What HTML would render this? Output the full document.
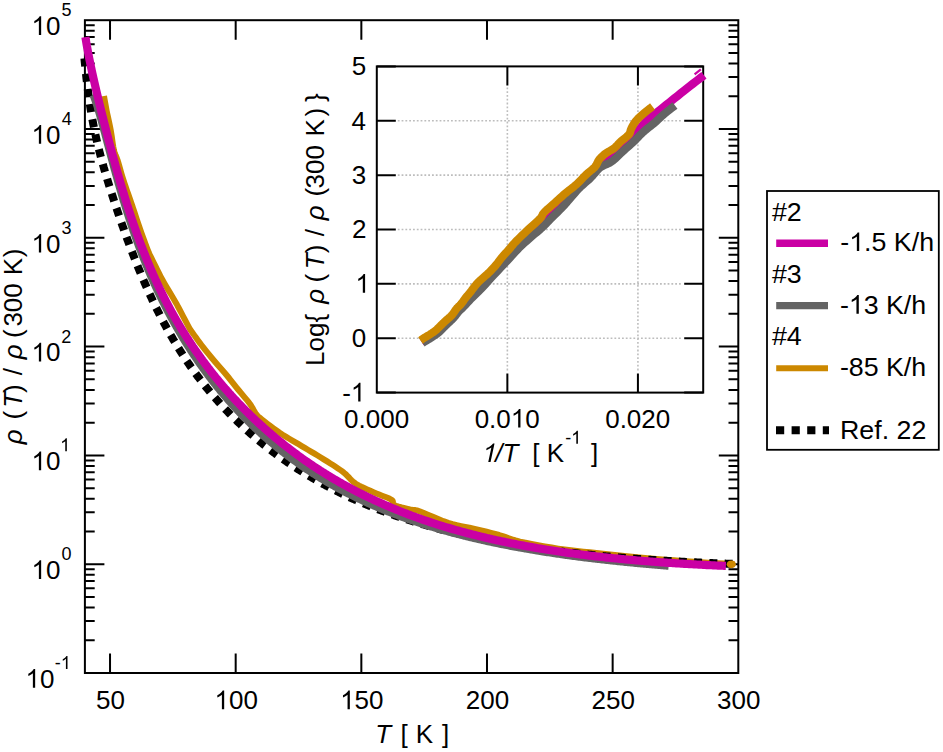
<!DOCTYPE html>
<html><head><meta charset="utf-8"><style>
html,body{margin:0;padding:0;background:#fff;}
svg{display:block;}
text{font-family:"Liberation Sans",sans-serif;fill:#000;}
.t26{font-size:26px;}
.t24{font-size:24.5px;}
.t18{font-size:18px;}
</style></head><body>
<svg width="943" height="752" viewBox="0 0 943 752">
<rect width="943" height="752" fill="#fff"/>
<!-- main frame -->
<g fill="none" stroke="#000" stroke-width="2">
<rect x="84.9" y="20.2" width="653.4" height="652.8"/>
<path d="M84.9 673H104.4M738.3 673H718.8M84.9 640.25H94.7M738.3 640.25H728.5M84.9 621.09H94.7M738.3 621.09H728.5M84.9 607.5H94.7M738.3 607.5H728.5M84.9 596.95H94.7M738.3 596.95H728.5M84.9 588.34H94.7M738.3 588.34H728.5M84.9 581.05H94.7M738.3 581.05H728.5M84.9 574.74H94.7M738.3 574.74H728.5M84.9 569.18H94.7M738.3 569.18H728.5M84.9 564.2H104.4M738.3 564.2H718.8M84.9 531.45H94.7M738.3 531.45H728.5M84.9 512.29H94.7M738.3 512.29H728.5M84.9 498.7H94.7M738.3 498.7H728.5M84.9 488.15H94.7M738.3 488.15H728.5M84.9 479.54H94.7M738.3 479.54H728.5M84.9 472.25H94.7M738.3 472.25H728.5M84.9 465.94H94.7M738.3 465.94H728.5M84.9 460.38H94.7M738.3 460.38H728.5M84.9 455.4H104.4M738.3 455.4H718.8M84.9 422.65H94.7M738.3 422.65H728.5M84.9 403.49H94.7M738.3 403.49H728.5M84.9 389.9H94.7M738.3 389.9H728.5M84.9 379.35H94.7M738.3 379.35H728.5M84.9 370.74H94.7M738.3 370.74H728.5M84.9 363.45H94.7M738.3 363.45H728.5M84.9 357.14H94.7M738.3 357.14H728.5M84.9 351.58H94.7M738.3 351.58H728.5M84.9 346.6H104.4M738.3 346.6H718.8M84.9 313.85H94.7M738.3 313.85H728.5M84.9 294.69H94.7M738.3 294.69H728.5M84.9 281.1H94.7M738.3 281.1H728.5M84.9 270.55H94.7M738.3 270.55H728.5M84.9 261.94H94.7M738.3 261.94H728.5M84.9 254.65H94.7M738.3 254.65H728.5M84.9 248.34H94.7M738.3 248.34H728.5M84.9 242.78H94.7M738.3 242.78H728.5M84.9 237.8H104.4M738.3 237.8H718.8M84.9 205.05H94.7M738.3 205.05H728.5M84.9 185.89H94.7M738.3 185.89H728.5M84.9 172.3H94.7M738.3 172.3H728.5M84.9 161.75H94.7M738.3 161.75H728.5M84.9 153.14H94.7M738.3 153.14H728.5M84.9 145.85H94.7M738.3 145.85H728.5M84.9 139.54H94.7M738.3 139.54H728.5M84.9 133.98H94.7M738.3 133.98H728.5M84.9 129H104.4M738.3 129H718.8M84.9 96.25H94.7M738.3 96.25H728.5M84.9 77.09H94.7M738.3 77.09H728.5M84.9 63.5H94.7M738.3 63.5H728.5M84.9 52.95H94.7M738.3 52.95H728.5M84.9 44.34H94.7M738.3 44.34H728.5M84.9 37.05H94.7M738.3 37.05H728.5M84.9 30.74H94.7M738.3 30.74H728.5M84.9 25.18H94.7M738.3 25.18H728.5M110.03 673V653.5M110.03 20.2V39.7M235.68 673V653.5M235.68 20.2V39.7M361.34 673V653.5M361.34 20.2V39.7M486.99 673V653.5M486.99 20.2V39.7M612.65 673V653.5M612.65 20.2V39.7"/>
</g>
<!-- main curves -->
<g fill="none" stroke-linejoin="round">
<path d="M84 53.6 L84.22 56.05 L84.44 58.45 L84.65 60.81 L84.87 63.13 L85.1 65.4 L85.32 67.63 L85.54 69.82 L85.64 70.78 L85.76 71.97 L85.99 74.09 L86.22 76.16 L86.44 78.2 L86.67 80.2 L86.9 82.17 L87.13 84.11 L87.28 85.35 L87.36 86.01 L87.59 87.88 L87.83 89.72 L88.06 91.53 L88.29 93.31 L88.53 95.06 L88.77 96.78 L88.92 97.86 L89.01 98.48 L89.25 100.15 L89.49 101.79 L89.73 103.41 L89.97 105.01 L90.22 106.59 L90.46 108.14 L90.56 108.75 L90.71 109.67 L90.95 111.18 L91.2 112.66 L91.45 114.13 L91.7 115.58 L91.96 117.01 L92.2 118.37 L92.21 118.43 L92.46 119.83 L92.72 121.21 L92.98 122.57 L93.23 123.92 L93.49 125.25 L93.75 126.58 L93.84 127 L94.02 127.88 L94.28 129.18 L94.54 130.46 L94.81 131.73 L95.08 132.98 L95.34 134.23 L95.48 134.85 L95.61 135.46 L95.88 136.69 L96.16 137.9 L96.43 139.11 L96.7 140.31 L96.98 141.5 L97.12 142.08 L97.26 142.68 L97.54 143.85 L97.82 145.02 L98.1 146.18 L98.38 147.33 L98.67 148.47 L98.76 148.84 L98.95 149.61 L99.24 150.75 L99.53 151.88 L99.82 153 L100.11 154.12 L100.4 155.22 L100.4 155.24 L100.7 156.35 L100.99 157.46 L101.29 158.57 L101.59 159.67 L101.89 160.77 L102.04 161.3 L102.19 161.87 L102.5 162.96 L102.8 164.06 L103.11 165.15 L103.42 166.24 L103.68 167.14 L103.73 167.33 L104.04 168.41 L104.36 169.5 L104.67 170.59 L104.99 171.67 L105.31 172.76 L105.32 172.8 L105.63 173.84 L105.95 174.92 L106.27 176.01 L106.6 177.09 L106.92 178.18 L106.96 178.3 L107.25 179.27 L107.58 180.35 L107.91 181.44 L108.25 182.53 L108.58 183.62 L108.6 183.66 L108.92 184.71 L109.26 185.81 L109.6 186.9 L109.95 188 L110.24 188.92 L110.29 189.1 L110.64 190.2 L110.99 191.3 L111.34 192.41 L111.69 193.51 L111.88 194.09 L112.05 194.62 L112.4 195.73 L112.76 196.84 L113.12 197.96 L113.49 199.08 L113.52 199.17 L113.85 200.2 L114.22 201.32 L114.59 202.45 L114.96 203.58 L115.16 204.18 L115.33 204.71 L115.71 205.84 L116.09 206.98 L116.47 208.12 L116.8 209.11 L116.85 209.26 L117.23 210.41 L117.62 211.56 L118.01 212.71 L118.4 213.86 L118.44 213.98 L118.79 215.02 L119.19 216.18 L119.58 217.34 L119.99 218.51 L120.08 218.78 L120.39 219.68 L120.79 220.85 L121.2 222.03 L121.61 223.21 L121.72 223.51 L122.02 224.39 L122.44 225.57 L122.86 226.76 L123.28 227.95 L123.36 228.18 L123.7 229.14 L124.12 230.34 L124.55 231.54 L124.98 232.74 L125 232.78 L125.41 233.94 L125.85 235.15 L126.29 236.36 L126.64 237.32 L126.73 237.58 L127.17 238.79 L127.62 240.01 L128.07 241.23 L128.28 241.79 L128.52 242.46 L128.98 243.68 L129.43 244.91 L129.89 246.14 L129.92 246.2 L130.36 247.38 L130.83 248.62 L131.29 249.86 L131.56 250.54 L131.77 251.1 L132.24 252.34 L132.72 253.59 L133.2 254.82 L133.2 254.84 L133.69 256.09 L134.18 257.34 L134.67 258.6 L134.84 259.02 L135.16 259.86 L135.66 261.12 L136.16 262.38 L136.48 263.16 L136.67 263.64 L137.18 264.91 L137.69 266.18 L138.12 267.23 L138.2 267.45 L138.72 268.72 L139.24 270 L139.75 271.24 L139.77 271.27 L140.3 272.55 L140.83 273.83 L141.37 275.11 L141.39 275.18 L141.91 276.39 L142.45 277.68 L143 278.96 L143.03 279.05 L143.55 280.25 L144.1 281.54 L144.66 282.83 L144.67 282.85 L145.23 284.12 L145.79 285.41 L146.31 286.59 L146.36 286.7 L146.94 288 L147.52 289.3 L147.95 290.27 L148.1 290.59 L148.69 291.89 L149.28 293.19 L149.59 293.88 L149.88 294.49 L150.48 295.79 L151.08 297.1 L151.23 297.43 L151.69 298.4 L152.3 299.71 L152.87 300.91 L152.92 301.01 L153.54 302.32 L154.17 303.62 L154.51 304.34 L154.8 304.93 L155.44 306.24 L156.08 307.55 L156.15 307.7 L156.73 308.86 L157.38 310.17 L157.79 311.01 L158.03 311.48 L158.69 312.8 L159.36 314.11 L159.43 314.25 L160.03 315.42 L160.71 316.74 L161.07 317.44 L161.39 318.05 L162.07 319.36 L162.71 320.58 L162.77 320.68 L163.46 322 L164.17 323.31 L164.35 323.66 L164.88 324.63 L165.59 325.95 L165.99 326.68 L166.31 327.26 L167.04 328.58 L167.63 329.66 L167.77 329.9 L168.5 331.22 L169.25 332.54 L169.27 332.58 L170 333.86 L170.75 335.18 L170.91 335.46 L171.51 336.5 L172.28 337.82 L172.55 338.28 L173.05 339.14 L173.84 340.46 L174.19 341.06 L174.62 341.78 L175.42 343.1 L175.83 343.79 L176.22 344.42 L177.02 345.74 L177.47 346.47 L177.84 347.07 L178.66 348.39 L179.11 349.12 L179.48 349.71 L180.32 351.03 L180.75 351.71 L181.16 352.36 L182.01 353.68 L182.39 354.27 L182.87 355 L183.73 356.33 L184.03 356.78 L184.6 357.65 L185.48 358.98 L185.67 359.26 L186.37 360.3 L187.26 361.63 L187.31 361.7 L188.17 362.95 L188.95 364.09 L189.08 364.28 L190 365.6 L190.59 366.46 L190.92 366.93 L191.86 368.26 L192.23 368.78 L192.8 369.58 L193.76 370.91 L193.87 371.07 L194.72 372.24 L195.51 373.33 L195.69 373.57 L196.67 374.9 L197.15 375.55 L197.66 376.23 L198.65 377.55 L198.79 377.74 L199.66 378.88 L200.43 379.89 L200.68 380.22 L201.7 381.55 L202.07 382.02 L202.74 382.88 L203.71 384.11 L203.79 384.21 L204.84 385.54 L205.35 386.18 L205.91 386.87 L206.98 388.21 L206.99 388.21 L208.07 389.54 L208.63 390.22 L209.17 390.88 L210.27 392.2 L210.28 392.21 L211.4 393.55 L211.91 394.15 L212.53 394.88 L213.55 396.08 L213.67 396.22 L214.82 397.56 L215.19 397.98 L215.99 398.9 L216.83 399.85 L217.17 400.24 L218.36 401.58 L218.47 401.7 L219.56 402.92 L220.11 403.52 L220.77 404.26 L221.75 405.33 L222 405.6 L223.24 406.94 L223.39 407.1 L224.49 408.29 L225.03 408.86 L225.76 409.63 L226.67 410.59 L227.03 410.97 L228.31 412.3 L228.33 412.32 L229.63 413.67 L229.95 413.99 L230.95 415.01 L231.59 415.66 L232.29 416.36 L233.23 417.3 L233.64 417.71 L234.87 418.93 L235 419.06 L236.38 420.41 L236.51 420.54 L237.77 421.76 L238.15 422.12 L239.18 423.12 L239.79 423.69 L240.61 424.47 L241.43 425.24 L242.05 425.83 L243.07 426.77 L243.51 427.18 L244.71 428.28 L244.98 428.54 L246.35 429.78 L246.47 429.89 L247.98 431.25 L247.98 431.25 L249.51 432.61 L249.62 432.71 L251.05 433.97 L251.26 434.15 L252.61 435.33 L252.9 435.58 L254.19 436.69 L254.54 436.99 L255.79 438.05 L256.18 438.38 L257.41 439.42 L257.82 439.76 L259.05 440.78 L259.46 441.12 L260.71 442.14 L261.1 442.47 L262.38 443.51 L262.74 443.8 L264.08 444.87 L264.38 445.12 L265.8 446.24 L266.02 446.42 L267.54 447.61 L267.66 447.7 L269.3 448.97 L269.3 448.98 L270.94 450.23 L271.08 450.34 L272.58 451.48 L272.89 451.71 L274.22 452.71 L274.72 453.08 L275.86 453.93 L276.57 454.45 L277.5 455.13 L278.45 455.82 L279.14 456.32 L280.35 457.19 L280.78 457.5 L282.27 458.56 L282.42 458.67 L284.06 459.82 L284.22 459.93 L285.7 460.96 L286.2 461.3 L287.34 462.09 L288.2 462.68 L288.98 463.21 L290.23 464.05 L290.62 464.31 L292.26 465.4 L292.29 465.42 L293.9 466.48 L294.37 466.79 L295.54 467.55 L296.48 468.16 L297.18 468.61 L298.62 469.53 L298.82 469.66 L300.46 470.69 L300.79 470.9 L302.1 471.72 L303 472.28 L303.74 472.73 L305.23 473.65 L305.38 473.74 L307.02 474.73 L307.49 475.01 L308.66 475.71 L309.79 476.38 L310.3 476.69 L311.94 477.65 L312.12 477.75 L313.58 478.6 L314.48 479.12 L315.22 479.54 L316.86 480.48 L316.87 480.49 L318.5 481.4 L319.3 481.85 L320.14 482.31 L321.77 483.22 L321.78 483.22 L323.42 484.11 L324.28 484.58 L325.06 485 L326.7 485.88 L326.82 485.94 L328.34 486.74 L329.4 487.3 L329.98 487.6 L331.62 488.45 L332.02 488.66 L333.26 489.29 L334.67 490.01 L334.9 490.13 L336.54 490.95 L337.37 491.37 L338.18 491.77 L339.82 492.57 L340.12 492.72 L341.46 493.37 L342.9 494.07 L343.1 494.16 L344.74 494.95 L345.73 495.42 L346.38 495.72 L348.02 496.49 L348.6 496.76 L349.66 497.25 L351.3 498 L351.52 498.1 L352.94 498.74 L354.49 499.44 L354.58 499.48 L356.22 500.21 L357.5 500.78 L357.85 500.93 L359.49 501.64 L360.57 502.11 L361.13 502.35 L362.77 503.05 L363.68 503.44 L364.41 503.74 L366.05 504.43 L366.85 504.76 L367.69 505.11 L369.33 505.78 L370.07 506.08 L370.97 506.44 L372.61 507.1 L373.35 507.4 L374.25 507.75 L375.89 508.4 L376.68 508.71 L377.53 509.04 L379.17 509.67 L380.07 510.01 L380.81 510.3 L382.45 510.92 L383.52 511.32 L384.09 511.53 L385.73 512.14 L387.03 512.61 L387.37 512.74 L389.01 513.33 L390.6 513.9 L390.65 513.92 L392.29 514.51 L393.93 515.08 L394.23 515.19 L395.57 515.65 L397.21 516.22 L397.93 516.47 L398.85 516.78 L400.49 517.33 L401.7 517.74 L402.13 517.88 L403.77 518.43 L405.41 518.96 L405.54 519.01 L407.05 519.5 L408.69 520.02 L409.45 520.26 L410.33 520.54 L411.97 521.06 L413.43 521.52 L413.61 521.57 L415.25 522.08 L416.89 522.58 L417.49 522.76 L418.53 523.08 L420.17 523.57 L421.62 524 L421.81 524.05 L423.45 524.53 L425.09 525.01 L425.83 525.23 L426.73 525.48 L428.37 525.95 L430.01 526.41 L430.13 526.45 L431.65 526.87 L433.29 527.32 L434.51 527.66 L434.93 527.77 L436.57 528.21 L438.21 528.65 L438.98 528.86 L439.85 529.09 L441.49 529.52 L443.13 529.94 L443.54 530.05 L444.77 530.37 L446.41 530.78 L448.05 531.2 L448.19 531.23 L449.69 531.61 L451.33 532.01 L452.93 532.4 L452.97 532.41 L454.61 532.81 L456.25 533.2 L457.77 533.56 L457.89 533.59 L459.53 533.98 L461.17 534.36 L462.72 534.71 L462.81 534.73 L464.45 535.11 L466.08 535.48 L467.72 535.84 L467.77 535.85 L469.36 536.21 L471 536.56 L472.64 536.92 L472.92 536.98 L474.28 537.27 L475.92 537.62 L477.56 537.96 L478.19 538.09 L479.2 538.3 L480.84 538.64 L482.48 538.98 L483.57 539.2 L484.12 539.31 L485.76 539.63 L487.4 539.96 L489.04 540.28 L489.07 540.28 L490.68 540.59 L492.32 540.91 L493.96 541.22 L494.7 541.36 L495.6 541.53 L497.24 541.83 L498.88 542.13 L500.45 542.42 L500.52 542.43 L502.16 542.73 L503.8 543.02 L505.44 543.31 L506.33 543.46 L507.08 543.59 L508.72 543.88 L510.36 544.16 L512 544.44 L512.34 544.49 L513.64 544.71 L515.28 544.98 L516.92 545.25 L518.5 545.51 L518.56 545.52 L520.2 545.78 L521.84 546.04 L523.48 546.3 L524.8 546.51 L525.12 546.55 L526.76 546.81 L528.4 547.06 L530.04 547.31 L531.26 547.49 L531.68 547.55 L533.32 547.79 L534.96 548.03 L536.6 548.27 L537.86 548.45 L538.24 548.51 L539.88 548.74 L541.52 548.97 L543.16 549.2 L544.63 549.4 L544.8 549.42 L546.44 549.64 L548.08 549.86 L549.72 550.08 L551.36 550.3 L551.57 550.33 L553 550.51 L554.64 550.72 L556.28 550.93 L557.92 551.14 L558.69 551.24 L559.56 551.34 L561.2 551.55" stroke="#000" stroke-width="8" stroke-dasharray="8 7.35" stroke-dashoffset="-4.88"/>
<path d="M93 95.04 L93.23 95.57 L93.46 96.12 L93.69 96.68 L93.92 97.26 L94.16 97.86 L94.39 98.47 L94.44 98.61 L94.63 99.1 L94.86 99.75 L95.1 100.4 L95.34 101.08 L95.58 101.77 L95.82 102.47 L95.89 102.66 L96.06 103.18 L96.3 103.91 L96.55 104.66 L96.79 105.41 L97.04 106.18 L97.28 106.97 L97.33 107.1 L97.53 107.76 L97.78 108.57 L98.03 109.39 L98.28 110.22 L98.54 111.06 L98.77 111.85 L98.79 111.91 L99.04 112.78 L99.3 113.65 L99.56 114.54 L99.81 115.44 L100.07 116.34 L100.21 116.83 L100.33 117.26 L100.6 118.19 L100.86 119.12 L101.12 120.07 L101.39 121.02 L101.65 121.98 L101.66 121.99 L101.92 122.96 L102.19 123.94 L102.46 124.92 L102.73 125.92 L103 126.93 L103.1 127.27 L103.28 127.94 L103.55 128.96 L103.83 129.99 L104.11 131.02 L104.39 132.06 L104.54 132.64 L104.67 133.11 L104.95 134.17 L105.23 135.23 L105.51 136.3 L105.8 137.37 L105.98 138.06 L106.09 138.45 L106.38 139.54 L106.67 140.63 L106.96 141.73 L107.25 142.83 L107.43 143.5 L107.54 143.94 L107.84 145.06 L108.13 146.17 L108.43 147.3 L108.73 148.43 L108.87 148.94 L109.03 149.56 L109.33 150.7 L109.64 151.84 L109.94 152.99 L110.25 154.14 L110.31 154.36 L110.56 155.29 L110.87 156.45 L111.18 157.61 L111.49 158.78 L111.75 159.75 L111.81 159.94 L112.12 161.12 L112.44 162.29 L112.76 163.47 L113.08 164.65 L113.2 165.08 L113.4 165.84 L113.73 167.02 L114.05 168.21 L114.38 169.41 L114.64 170.35 L114.71 170.6 L115.04 171.8 L115.37 173 L115.71 174.2 L116.04 175.41 L116.08 175.56 L116.38 176.62 L116.72 177.82 L117.06 179.03 L117.4 180.25 L117.52 180.68 L117.74 181.46 L118.09 182.68 L118.44 183.9 L118.79 185.11 L118.97 185.73 L119.14 186.34 L119.49 187.56 L119.85 188.78 L120.21 190.01 L120.41 190.7 L120.57 191.23 L120.93 192.46 L121.29 193.69 L121.65 194.92 L121.85 195.58 L122.02 196.15 L122.39 197.38 L122.76 198.61 L123.13 199.84 L123.29 200.38 L123.51 201.07 L123.88 202.31 L124.26 203.54 L124.64 204.78 L124.74 205.08 L125.03 206.01 L125.41 207.25 L125.8 208.49 L126.18 209.7 L126.19 209.72 L126.58 210.96 L126.97 212.2 L127.37 213.44 L127.62 214.23 L127.77 214.68 L128.17 215.92 L128.57 217.15 L128.97 218.39 L129.07 218.67 L129.38 219.63 L129.79 220.87 L130.2 222.11 L130.51 223.03 L130.62 223.35 L131.03 224.59 L131.45 225.83 L131.87 227.07 L131.95 227.3 L132.3 228.31 L132.72 229.55 L133.15 230.79 L133.39 231.49 L133.58 232.03 L134.01 233.27 L134.45 234.51 L134.84 235.6 L134.89 235.74 L135.33 236.98 L135.77 238.22 L136.22 239.46 L136.28 239.62 L136.67 240.7 L137.12 241.94 L137.57 243.17 L137.72 243.57 L138.03 244.41 L138.49 245.65 L138.95 246.89 L139.16 247.45 L139.42 248.12 L139.89 249.36 L140.36 250.6 L140.61 251.25 L140.83 251.83 L141.31 253.07 L141.79 254.31 L142.05 254.98 L142.27 255.54 L142.75 256.78 L143.24 258.01 L143.49 258.64 L143.73 259.25 L144.23 260.48 L144.73 261.72 L144.93 262.23 L145.23 262.95 L145.73 264.19 L146.24 265.42 L146.38 265.76 L146.75 266.66 L147.26 267.89 L147.78 269.12 L147.82 269.22 L148.3 270.36 L148.82 271.59 L149.26 272.63 L149.35 272.83 L149.88 274.06 L150.41 275.29 L150.7 275.97 L150.95 276.53 L151.49 277.76 L152.03 278.99 L152.15 279.25 L152.58 280.22 L153.13 281.46 L153.59 282.48 L153.68 282.69 L154.24 283.92 L154.8 285.16 L155.03 285.66 L155.37 286.39 L155.94 287.62 L156.47 288.78 L156.51 288.86 L157.09 290.09 L157.67 291.33 L157.92 291.85 L158.26 292.56 L158.84 293.79 L159.36 294.87 L159.44 295.03 L160.03 296.26 L160.63 297.5 L160.8 297.84 L161.24 298.73 L161.85 299.97 L162.25 300.77 L162.46 301.2 L163.08 302.44 L163.69 303.65 L163.7 303.68 L164.33 304.91 L164.96 306.15 L165.13 306.48 L165.59 307.39 L166.23 308.62 L166.57 309.28 L166.88 309.86 L167.53 311.1 L168.02 312.03 L168.18 312.34 L168.84 313.58 L169.46 314.74 L169.5 314.82 L170.17 316.06 L170.84 317.31 L170.9 317.41 L171.52 318.55 L172.2 319.79 L172.34 320.05 L172.89 321.03 L173.58 322.28 L173.79 322.65 L174.28 323.52 L174.98 324.77 L175.23 325.21 L175.69 326.02 L176.4 327.26 L176.67 327.73 L177.12 328.51 L177.84 329.76 L178.11 330.23 L178.57 331.01 L179.31 332.26 L179.56 332.68 L180.05 333.51 L180.79 334.77 L181 335.11 L181.55 336.02 L182.3 337.28 L182.44 337.5 L183.07 338.53 L183.84 339.79 L183.88 339.87 L184.61 341.05 L185.33 342.2 L185.39 342.3 L186.18 343.56 L186.77 344.5 L186.97 344.83 L187.77 346.09 L188.21 346.78 L188.58 347.35 L189.39 348.62 L189.65 349.02 L190.21 349.88 L191.04 351.15 L191.1 351.24 L191.87 352.42 L192.54 353.43 L192.71 353.69 L193.55 354.96 L193.98 355.6 L194.41 356.23 L195.27 357.5 L195.43 357.74 L196.13 358.78 L196.87 359.85 L197.01 360.05 L197.89 361.33 L198.31 361.94 L198.78 362.61 L199.67 363.89 L199.75 364 L200.58 365.17 L201.2 366.04 L201.49 366.45 L202.41 367.73 L202.64 368.06 L203.33 369.02 L204.08 370.05 L204.27 370.31 L205.21 371.59 L205.52 372.02 L206.16 372.88 L206.97 373.97 L207.12 374.18 L208.09 375.47 L208.41 375.9 L209.06 376.76 L209.85 377.8 L210.05 378.06 L211.04 379.35 L211.29 379.68 L212.04 380.65 L212.74 381.55 L213.05 381.95 L214.07 383.25 L214.18 383.39 L215.1 384.56 L215.62 385.21 L216.14 385.86 L217.06 387.02 L217.18 387.17 L218.24 388.47 L218.51 388.8 L219.31 389.78 L219.95 390.56 L220.38 391.09 L221.39 392.31 L221.47 392.4 L222.57 393.72 L222.83 394.04 L223.67 395.03 L224.28 395.74 L224.79 396.35 L225.72 397.43 L225.92 397.66 L227.05 398.98 L227.16 399.11 L228.2 400.3 L228.61 400.76 L229.36 401.62 L230.05 402.4 L230.53 402.95 L231.49 404.02 L231.71 404.27 L232.91 405.6 L232.93 405.63 L234.11 406.92 L234.38 407.21 L235.33 408.25 L235.82 408.78 L236.56 409.58 L237.26 410.34 L237.8 410.91 L238.7 411.88 L239.05 412.25 L240.15 413.4 L240.32 413.58 L241.59 414.91 L241.59 414.91 L242.88 416.25 L243.03 416.4 L244.19 417.59 L244.47 417.88 L245.5 418.93 L245.92 419.34 L246.83 420.26 L247.36 420.79 L248.18 421.61 L248.8 422.22 L249.54 422.95 L250.24 423.64 L250.91 424.29 L251.69 425.05 L252.29 425.63 L253.13 426.44 L253.69 426.98 L254.57 427.81 L255.11 428.32 L256.01 429.18 L256.54 429.67 L257.46 430.53 L257.99 431.02 L258.9 431.86 L259.45 432.37 L260.34 433.19 L260.92 433.71 L261.78 434.5 L262.42 435.06 L263.23 435.79 L263.92 436.41 L264.67 437.08 L265.45 437.77 L266.11 438.35 L266.99 439.12 L267.56 439.61 L268.55 440.47 L269 440.85 L270.13 441.82 L270.44 442.09 L271.72 443.17 L271.88 443.31 L273.33 444.52 L273.33 444.53 L274.77 445.72 L274.96 445.88 L276.21 446.91 L276.61 447.24 L277.65 448.09 L278.28 448.59 L279.1 449.25 L279.96 449.94 L280.54 450.4 L281.67 451.3 L281.98 451.55 L283.39 452.65 L283.42 452.68 L284.87 453.8 L285.14 454.01 L286.31 454.91 L286.91 455.36 L287.75 456.01 L288.69 456.72 L289.19 457.09 L290.5 458.07 L290.64 458.17 L292.08 459.24 L292.33 459.42 L293.52 460.3 L294.18 460.78 L294.96 461.34 L296.06 462.13 L296.41 462.38 L297.85 463.41 L297.95 463.48 L299.29 464.43 L299.87 464.83 L300.74 465.43 L301.82 466.18 L302.18 466.43 L303.62 467.42 L303.79 467.53 L305.06 468.4 L305.78 468.88 L306.51 469.37 L307.8 470.23 L307.95 470.33 L309.39 471.28 L309.84 471.58 L310.83 472.23 L311.91 472.92 L312.28 473.16 L313.72 474.09 L314 474.27 L315.16 475 L316.13 475.61 L316.6 475.91 L318.05 476.81 L318.28 476.95 L319.49 477.7 L320.45 478.29 L320.93 478.59 L322.37 479.46 L322.66 479.63 L323.82 480.33 L324.9 480.97 L325.26 481.19 L326.7 482.04 L327.16 482.31 L328.14 482.88 L329.46 483.64 L329.59 483.71 L331.03 484.54 L331.79 484.97 L332.47 485.36 L333.92 486.17 L334.14 486.3 L335.36 486.97 L336.54 487.63 L336.8 487.77 L338.24 488.56 L338.96 488.95 L339.69 489.34 L341.13 490.12 L341.42 490.27 L342.57 490.89 L343.91 491.59 L344.01 491.65 L345.46 492.4 L346.43 492.91 L346.9 493.15 L348.34 493.89 L349 494.22 L349.78 494.62 L351.23 495.35 L351.6 495.53 L352.67 496.07 L354.11 496.78 L354.23 496.84 L355.55 497.49 L356.91 498.14 L357 498.19 L358.44 498.88 L359.62 499.44 L359.88 499.57 L361.32 500.25 L362.37 500.74 L362.77 500.92 L364.21 501.59 L365.17 502.03 L365.65 502.25 L367.1 502.91 L368 503.32 L368.54 503.56 L369.98 504.21 L370.88 504.61 L371.42 504.85 L372.87 505.48 L373.8 505.89 L374.31 506.11 L375.75 506.73 L376.77 507.17 L377.19 507.35 L378.64 507.96 L379.78 508.44 L380.08 508.56 L381.52 509.16 L382.84 509.71 L382.96 509.76 L384.41 510.35 L385.85 510.93 L385.94 510.97 L387.29 511.51 L388.73 512.08 L389.1 512.23 L390.18 512.65 L391.62 513.22 L392.3 513.48 L393.06 513.77 L394.5 514.33 L395.56 514.73 L395.95 514.88 L397.39 515.42 L398.83 515.96 L398.87 515.97 L400.28 516.49 L401.72 517.02 L402.23 517.21 L403.16 517.55 L404.6 518.07 L405.64 518.44 L406.05 518.58 L407.49 519.09 L408.93 519.6 L409.12 519.67 L410.37 520.1 L411.82 520.6 L412.65 520.89 L413.26 521.09 L414.7 521.58 L416.14 522.07 L416.24 522.1 L417.59 522.55 L419.03 523.02 L419.89 523.31 L420.47 523.5 L421.91 523.96 L423.36 524.43 L423.6 524.51 L424.8 524.89 L426.24 525.34 L427.38 525.7 L427.68 525.8 L429.13 526.24 L430.57 526.69 L431.22 526.89 L432.01 527.13 L433.46 527.56 L434.9 528 L435.13 528.07 L436.34 528.43 L437.78 528.85 L439.11 529.24 L439.23 529.27 L440.67 529.69 L442.11 530.1 L443.16 530.4 L443.55 530.51 L445 530.92 L446.44 531.32 L447.28 531.56 L447.88 531.72 L449.32 532.12 L450.77 532.51 L451.48 532.71 L452.21 532.9 L453.65 533.29 L455.09 533.67 L455.75 533.85 L456.54 534.05 L457.98 534.43 L459.42 534.8 L460.1 534.98 L460.86 535.17 L462.31 535.54 L463.75 535.91 L464.54 536.1 L465.19 536.27 L466.64 536.62 L468.08 536.98 L469.05 537.22 L469.52 537.33 L470.96 537.68 L472.41 538.03 L473.66 538.32 L473.85 538.37 L475.29 538.71 L476.73 539.05 L478.18 539.38 L478.35 539.42 L479.62 539.71 L481.06 540.04 L482.5 540.37 L483.13 540.51 L483.95 540.69 L485.39 541.01 L486.83 541.33 L488.01 541.58 L488.27 541.64 L489.72 541.96 L491.16 542.27 L492.6 542.57 L492.98 542.65 L494.04 542.88 L495.49 543.18 L496.93 543.48 L498.05 543.71 L498.37 543.78 L499.82 544.07 L501.26 544.36 L502.7 544.65 L503.22 544.76 L504.14 544.94 L505.59 545.22 L507.03 545.51 L508.47 545.79 L508.5 545.79 L509.91 546.06 L511.36 546.34 L512.8 546.61 L513.89 546.82 L514.24 546.88 L515.68 547.15 L517.13 547.42 L518.57 547.68 L519.39 547.83 L520.01 547.95 L521.45 548.21 L522.9 548.46 L524.34 548.72 L525 548.84 L525.78 548.97 L527.22 549.22 L528.67 549.47 L530.11 549.72 L530.73 549.83 L531.55 549.97 L532.99 550.21 L534.44 550.45 L535.88 550.69 L536.59 550.81 L537.32 550.93 L538.77 551.16 L540.21 551.4 L541.65 551.63 L542.57 551.77 L543.09 551.86 L544.54 552.08 L545.98 552.31 L547.42 552.53 L548.69 552.73 L548.86 552.76 L550.31 552.98 L551.75 553.19 L553.19 553.41 L554.63 553.63 L554.94 553.67 L556.08 553.84 L557.52 554.05 L558.96 554.26 L560.4 554.47 L561.33 554.6 L561.85 554.68 L563.29 554.88 L564.73 555.08 L566.17 555.28 L567.62 555.48 L567.86 555.52 L569.06 555.68 L570.5 555.88 L571.95 556.07 L573.39 556.27 L574.54 556.42 L574.83 556.46 L576.27 556.65 L577.72 556.84 L579.16 557.02 L580.6 557.21 L581.38 557.31 L582.04 557.39 L583.49 557.58 L584.93 557.76 L586.37 557.94 L587.81 558.12 L588.38 558.19 L589.26 558.29 L590.7 558.47 L592.14 558.64 L593.58 558.81 L595.03 558.99 L595.55 559.05 L596.47 559.16 L597.91 559.32 L599.35 559.49 L600.8 559.66 L602.24 559.82 L602.89 559.89 L603.68 559.98 L605.13 560.15 L606.57 560.31 L608.01 560.46 L609.45 560.62 L610.4 560.73 L610.9 560.78 L612.34 560.93 L613.78 561.09 L615.22 561.24 L616.67 561.39 L618.1 561.54 L618.11 561.54 L619.55 561.69 L620.99 561.84 L622.44 561.99 L623.88 562.13 L625.32 562.28 L625.99 562.34 L626.76 562.42 L628.21 562.56 L629.65 562.7 L631.09 562.84 L632.53 562.98 L633.98 563.12 L634.09 563.13 L635.42 563.26 L636.86 563.39 L638.31 563.53 L639.75 563.66 L641.19 563.79 L642.38 563.9 L642.63 563.92 L644.08 564.05 L645.52 564.18 L646.96 564.31 L648.4 564.44 L649.85 564.56 L650.9 564.65 L651.29 564.69 L652.73 564.81 L654.17 564.93 L655.62 565.06 L657.06 565.18 L658.5 565.3 L659.63 565.39 L659.94 565.42 L661.39 565.53 L662.83 565.65 L664.27 565.77 L665.71 565.88 L667.16 566 L668.6 566.11" stroke="#646464" stroke-width="7.3"/>
<path d="M104 96 L104.25 97.45 L104.59 99.41 L104.99 101.75 L105.45 104.37 L105.96 107.16 L106.5 110 L107.11 112.99 L107.81 116.22 L108.56 119.62 L109.31 123.11 L110.04 126.6 L110.7 130 L111.29 133.45 L111.83 137.04 L112.34 140.62 L112.84 144.07 L113.36 147.25 L113.9 150 L114.45 152.13 L114.99 153.7 L115.53 155 L116.11 156.3 L116.76 157.87 L117.5 160 L118.34 162.75 L119.26 165.93 L120.24 169.38 L121.27 172.96 L122.33 176.55 L123.4 180 L124.53 183.45 L125.76 187.04 L127.01 190.62 L128.22 194.07 L129.34 197.25 L130.3 200 L131.03 202.13 L131.57 203.7 L132.01 205 L132.45 206.3 L132.98 207.87 L133.7 210 L134.62 212.75 L135.66 215.93 L136.8 219.38 L137.99 222.96 L139.2 226.55 L140.4 230 L141.63 233.45 L142.92 237.04 L144.23 240.62 L145.51 244.07 L146.72 247.25 L147.8 250 L148.67 252.13 L149.34 253.7 L149.93 255 L150.56 256.3 L151.35 257.87 L152.4 260 L153.75 262.75 L155.3 265.93 L157 269.38 L158.8 272.96 L160.65 276.55 L162.5 280 L164.44 283.45 L166.54 287.04 L168.69 290.62 L170.77 294.07 L172.68 297.25 L174.3 300 L175.54 302.16 L176.46 303.79 L177.21 305.15 L177.92 306.47 L178.74 308.01 L179.8 310 L181.2 312.65 L182.86 315.79 L184.61 319.15 L186.33 322.43 L187.88 325.34 L189.1 327.6 L189.88 329 L190.3 329.73 L190.54 330.09 L190.79 330.39 L191.21 330.92 L192 332 L193.16 333.65 L194.55 335.62 L196.12 337.84 L197.83 340.2 L199.6 342.62 L201.4 345 L203.25 347.38 L205.2 349.85 L207.23 352.38 L209.3 354.93 L211.4 357.48 L213.5 360 L215.63 362.5 L217.8 365 L220.01 367.5 L222.21 370 L224.38 372.5 L226.5 375 L228.56 377.51 L230.59 380.04 L232.59 382.56 L234.57 385.07 L236.54 387.56 L238.5 390 L240.51 392.44 L242.58 394.89 L244.63 397.32 L246.6 399.67 L248.41 401.92 L250 404 L251.31 405.94 L252.37 407.76 L253.29 409.48 L254.13 411.07 L254.97 412.55 L255.9 413.9 L256.77 414.99 L257.48 415.79 L258.19 416.47 L259.08 417.21 L260.29 418.16 L262 419.5 L264.3 421.32 L267.1 423.5 L270.22 425.9 L273.51 428.38 L276.83 430.79 L280 433 L283.07 435 L286.16 436.91 L289.26 438.75 L292.38 440.56 L295.49 442.37 L298.6 444.2 L301.7 446.05 L304.8 447.89 L307.89 449.72 L310.99 451.56 L314.09 453.42 L317.2 455.3 L320.42 457.27 L323.77 459.34 L327.13 461.42 L330.36 463.44 L333.33 465.33 L335.9 467 L338.02 468.41 L339.77 469.61 L341.26 470.67 L342.59 471.67 L343.87 472.69 L345.2 473.8 L346.55 475.03 L347.84 476.33 L349.07 477.65 L350.27 478.93 L351.44 480.13 L352.6 481.2 L353.61 482.07 L354.43 482.76 L355.23 483.37 L356.17 483.99 L357.4 484.7 L359.1 485.6 L361.38 486.72 L364.14 488 L367.21 489.38 L370.39 490.78 L373.51 492.14 L376.4 493.4 L379.2 494.56 L382.09 495.69 L384.92 496.77 L387.54 497.81 L389.82 498.82 L391.6 499.8 L392.61 500.73 L392.91 501.61 L392.86 502.46 L392.82 503.29 L393.15 504.09 L394.2 504.9 L396.14 505.73 L398.72 506.57 L401.66 507.41 L404.7 508.19 L407.57 508.9 L410 509.5 L411.74 509.85 L412.96 509.94 L414 509.96 L415.22 510.08 L416.97 510.47 L419.6 511.3 L423.3 512.73 L427.84 514.66 L432.91 516.86 L438.2 519.11 L443.4 521.19 L448.2 522.9 L452.62 524.18 L456.9 525.21 L461.09 526.08 L465.24 526.87 L469.4 527.68 L473.6 528.6 L477.9 529.62 L482.26 530.67 L486.63 531.74 L490.94 532.83 L495.12 533.91 L499.1 535 L502.65 536.08 L505.77 537.17 L508.76 538.26 L511.92 539.36 L515.57 540.47 L520 541.6 L525.37 542.77 L531.45 544 L538.02 545.24 L544.83 546.44 L551.63 547.58 L558.2 548.6 L564.51 549.48 L570.75 550.26 L576.99 550.96 L583.3 551.62 L589.74 552.29 L596.4 553 L603.23 553.75 L610.16 554.51 L617.24 555.27 L624.48 556.03 L631.93 556.78 L639.6 557.5 L647.73 558.22 L656.33 558.93 L665.12 559.64 L673.85 560.31 L682.23 560.94 L690 561.5 L697.42 562 L704.75 562.46 L711.74 562.87 L718.13 563.23 L723.63 563.54 L728 563.8 L730.98 563.99 L732.74 564.12 L733.62 564.19 L733.98 564.24 L734.16 564.27 L734.5 564.3" stroke="#cc8800" stroke-width="6"/>
<path d="M561.2 551.55 L562.84 551.75 L564.48 551.95 L565.98 552.13 L566.12 552.14 L567.76 552.34 L569.4 552.53 L571.04 552.72 L572.68 552.91 L573.46 553 L574.32 553.09 L575.95 553.28 L577.59 553.46 L579.23 553.64 L580.87 553.82 L581.13 553.84 L582.51 553.99 L584.15 554.17 L585.79 554.34 L587.43 554.51 L589.01 554.67 L589.07 554.68 L590.71 554.84 L592.35 555.01 L593.99 555.17 L595.63 555.33 L597.1 555.48 L597.27 555.49 L598.91 555.65 L600.55 555.81 L602.19 555.96 L603.83 556.12 L605.41 556.26 L605.47 556.27 L607.11 556.42 L608.75 556.56 L610.39 556.71 L612.03 556.85 L613.67 557 L613.94 557.02 L615.31 557.14 L616.95 557.28 L618.59 557.42 L620.23 557.55 L621.87 557.69 L622.72 557.76 L623.51 557.82 L625.15 557.95 L626.79 558.08 L628.43 558.21 L630.07 558.34 L631.71 558.46 L631.74 558.47 L633.35 558.59 L634.99 558.71 L636.63 558.83 L638.27 558.95 L639.91 559.07 L641.02 559.15 L641.55 559.19 L643.19 559.31 L644.83 559.42 L646.47 559.53 L648.11 559.65 L649.75 559.76 L650.57 559.81 L651.39 559.87 L653.03 559.98 L654.67 560.08 L656.31 560.19 L657.95 560.29 L659.59 560.4 L660.41 560.45 L661.23 560.5 L662.87 560.6 L664.51 560.7 L666.15 560.8 L667.79 560.89 L669.43 560.99 L670.53 561.05 L671.07 561.08 L672.71 561.18 L674.35 561.27 L675.99 561.36 L677.63 561.45 L679.27 561.54 L680.91 561.63 L680.97 561.63 L682.55 561.71 L684.18 561.8 L685.82 561.88 L687.46 561.97 L689.1 562.05 L690.74 562.13 L691.73 562.18 L692.38 562.21 L694.02 562.29 L695.66 562.37 L697.3 562.44 L698.94 562.52 L700.58 562.6 L702.22 562.67 L702.82 562.7 L703.86 562.74 L705.5 562.81 L707.14 562.89 L708.78 562.96 L710.42 563.03 L712.06 563.09 L713.7 563.16 L714.27 563.18 L715.34 563.23 L716.98 563.29 L718.62 563.36 L720.26 563.42 L721.9 563.48 L723.54 563.55 L725.18 563.61 L726.09 563.64 L726.82 563.67 L728.46 563.73 L730.1 563.79 L731.74 563.84 L733.38 563.9 L735.02 563.96 L736.66 564.01 L738.3 564.07" stroke="#000" stroke-width="8" stroke-dasharray="8 7.3" stroke-dashoffset="-10.86"/>
<ellipse cx="731.3" cy="564.3" rx="4.6" ry="3.9" fill="#cc8800"/>
<path d="M85.4 37.12 L85.62 38.46 L85.84 39.79 L86.06 41.1 L86.28 42.41 L86.51 43.7 L86.73 44.98 L86.95 46.25 L87.01 46.53 L87.18 47.51 L87.41 48.76 L87.64 50 L87.86 51.23 L88.09 52.46 L88.33 53.68 L88.56 54.89 L88.61 55.16 L88.79 56.09 L89.02 57.29 L89.26 58.48 L89.5 59.66 L89.73 60.84 L89.97 62.01 L90.21 63.18 L90.22 63.21 L90.45 64.35 L90.69 65.51 L90.94 66.67 L91.18 67.82 L91.43 68.97 L91.67 70.12 L91.82 70.82 L91.92 71.27 L92.17 72.41 L92.42 73.55 L92.67 74.69 L92.92 75.83 L93.17 76.96 L93.43 78.1 L93.43 78.1 L93.68 79.24 L93.94 80.37 L94.2 81.5 L94.46 82.64 L94.72 83.77 L94.98 84.91 L95.03 85.14 L95.24 86.04 L95.5 87.17 L95.77 88.31 L96.04 89.45 L96.3 90.59 L96.57 91.72 L96.64 92 L96.84 92.87 L97.11 94.01 L97.39 95.15 L97.66 96.3 L97.94 97.44 L98.21 98.59 L98.24 98.71 L98.49 99.75 L98.77 100.9 L99.05 102.06 L99.34 103.22 L99.62 104.38 L99.85 105.3 L99.91 105.54 L100.19 106.71 L100.48 107.88 L100.77 109.05 L101.06 110.23 L101.35 111.41 L101.45 111.8 L101.65 112.59 L101.94 113.77 L102.24 114.96 L102.54 116.15 L102.84 117.35 L103.06 118.22 L103.14 118.54 L103.44 119.75 L103.75 120.95 L104.05 122.16 L104.36 123.37 L104.66 124.56 L104.67 124.59 L104.98 125.8 L105.29 127.03 L105.61 128.25 L105.92 129.48 L106.24 130.71 L106.27 130.82 L106.56 131.95 L106.88 133.19 L107.2 134.43 L107.53 135.68 L107.85 136.93 L107.87 137.01 L108.18 138.18 L108.51 139.44 L108.84 140.7 L109.17 141.97 L109.48 143.12 L109.51 143.23 L109.85 144.5 L110.18 145.78 L110.52 147.06 L110.87 148.34 L111.08 149.15 L111.21 149.62 L111.56 150.91 L111.9 152.2 L112.25 153.49 L112.6 154.79 L112.69 155.11 L112.96 156.09 L113.31 157.39 L113.67 158.7 L114.03 160.01 L114.29 160.98 L114.39 161.32 L114.75 162.64 L115.12 163.96 L115.49 165.28 L115.86 166.6 L115.9 166.76 L116.23 167.93 L116.6 169.25 L116.98 170.59 L117.35 171.92 L117.51 172.45 L117.73 173.26 L118.12 174.59 L118.5 175.94 L118.89 177.28 L119.11 178.05 L119.28 178.62 L119.67 179.97 L120.06 181.32 L120.46 182.67 L120.72 183.56 L120.85 184.03 L121.25 185.38 L121.66 186.74 L122.06 188.1 L122.32 188.97 L122.47 189.46 L122.88 190.83 L123.29 192.19 L123.71 193.56 L123.93 194.28 L124.12 194.93 L124.54 196.3 L124.97 197.67 L125.39 199.04 L125.53 199.5 L125.82 200.41 L126.25 201.79 L126.68 203.17 L127.12 204.54 L127.14 204.61 L127.55 205.92 L127.99 207.3 L128.44 208.68 L128.74 209.63 L128.88 210.06 L129.33 211.44 L129.78 212.83 L130.24 214.21 L130.35 214.54 L130.7 215.6 L131.16 216.98 L131.62 218.37 L131.95 219.36 L132.09 219.75 L132.55 221.14 L133.03 222.53 L133.5 223.92 L133.56 224.08 L133.98 225.3 L134.46 226.69 L134.94 228.08 L135.16 228.7 L135.43 229.47 L135.92 230.86 L136.42 232.25 L136.77 233.23 L136.91 233.64 L137.41 235.03 L137.92 236.42 L138.37 237.67 L138.42 237.81 L138.93 239.19 L139.45 240.58 L139.96 241.97 L139.98 242.01 L140.49 243.36 L141.01 244.75 L141.54 246.14 L141.58 246.26 L142.07 247.53 L142.6 248.92 L143.14 250.3 L143.19 250.43 L143.68 251.69 L144.23 253.08 L144.78 254.46 L144.79 254.51 L145.33 255.85 L145.89 257.24 L146.4 258.5 L146.45 258.62 L147.01 260.01 L147.58 261.39 L148.01 262.41 L148.16 262.77 L148.73 264.16 L149.31 265.54 L149.61 266.24 L149.9 266.92 L150.49 268.3 L151.08 269.68 L151.22 270 L151.68 271.07 L152.28 272.45 L152.82 273.68 L152.89 273.82 L153.5 275.2 L154.11 276.58 L154.43 277.28 L154.73 277.96 L155.36 279.34 L155.99 280.71 L156.03 280.81 L156.62 282.09 L157.26 283.46 L157.64 284.28 L157.9 284.84 L158.55 286.21 L159.2 287.59 L159.24 287.68 L159.86 288.96 L160.52 290.33 L160.85 291.01 L161.19 291.7 L161.86 293.08 L162.45 294.28 L162.54 294.45 L163.22 295.82 L163.91 297.19 L164.06 297.49 L164.6 298.56 L165.3 299.93 L165.66 300.64 L166 301.3 L166.71 302.66 L167.27 303.73 L167.43 304.03 L168.15 305.4 L168.87 306.76 L168.88 306.77 L169.61 308.14 L170.35 309.5 L170.48 309.75 L171.09 310.87 L171.84 312.24 L172.08 312.68 L172.6 313.6 L173.36 314.97 L173.69 315.56 L174.13 316.34 L174.9 317.7 L175.29 318.39 L175.68 319.07 L176.47 320.44 L176.9 321.18 L177.26 321.8 L178.07 323.17 L178.51 323.92 L178.87 324.54 L179.69 325.9 L180.11 326.61 L180.51 327.27 L181.34 328.64 L181.72 329.26 L182.17 330.01 L183.01 331.37 L183.32 331.87 L183.86 332.74 L184.72 334.11 L184.93 334.44 L185.58 335.48 L186.45 336.85 L186.53 336.98 L187.33 338.22 L188.14 339.47 L188.22 339.6 L189.11 340.97 L189.74 341.93 L190.01 342.34 L190.92 343.71 L191.35 344.35 L191.84 345.09 L192.77 346.46 L192.95 346.74 L193.7 347.84 L194.56 349.09 L194.65 349.22 L195.6 350.6 L196.16 351.41 L196.56 351.98 L197.53 353.36 L197.77 353.7 L198.51 354.74 L199.37 355.95 L199.49 356.12 L200.49 357.51 L200.98 358.18 L201.5 358.89 L202.51 360.28 L202.58 360.38 L203.53 361.67 L204.19 362.55 L204.57 363.06 L205.61 364.45 L205.79 364.69 L206.67 365.84 L207.4 366.81 L207.73 367.24 L208.8 368.64 L209.01 368.9 L209.89 370.03 L210.61 370.96 L210.98 371.44 L212.09 372.84 L212.22 373 L213.21 374.24 L213.82 375.01 L214.33 375.65 L215.43 377 L215.47 377.06 L216.62 378.47 L217.03 378.96 L217.78 379.88 L218.64 380.91 L218.96 381.29 L220.14 382.71 L220.24 382.83 L221.34 384.13 L221.85 384.72 L222.55 385.55 L223.45 386.6 L223.77 386.97 L225.01 388.4 L225.06 388.46 L226.25 389.82 L226.66 390.29 L227.51 391.25 L228.27 392.1 L228.79 392.69 L229.87 393.9 L230.07 394.12 L231.37 395.56 L231.48 395.67 L232.69 397 L233.08 397.43 L234.02 398.44 L234.69 399.17 L235.36 399.89 L236.29 400.89 L236.72 401.34 L237.9 402.59 L238.09 402.79 L239.48 404.24 L239.51 404.27 L240.88 405.69 L241.11 405.93 L242.3 407.15 L242.72 407.58 L243.73 408.61 L244.32 409.21 L245.18 410.08 L245.93 410.83 L246.64 411.54 L247.53 412.43 L248.13 413.01 L249.14 414.01 L249.63 414.48 L250.74 415.57 L251.14 415.96 L252.35 417.12 L252.68 417.44 L253.95 418.66 L254.23 418.92 L255.56 420.17 L255.8 420.4 L257.16 421.68 L257.38 421.88 L258.77 423.17 L258.99 423.37 L260.37 424.64 L260.62 424.86 L261.98 426.1 L262.26 426.36 L263.58 427.55 L263.93 427.85 L265.19 428.98 L265.61 429.35 L266.79 430.39 L267.32 430.85 L268.4 431.8 L269.04 432.36 L270.01 433.19 L270.79 433.86 L271.61 434.56 L272.56 435.37 L273.22 435.93 L274.35 436.88 L274.82 437.28 L276.16 438.39 L276.43 438.61 L278 439.91 L278.03 439.94 L279.64 441.25 L279.86 441.43 L281.24 442.55 L281.74 442.95 L282.85 443.83 L283.65 444.47 L284.45 445.11 L285.58 445.99 L286.06 446.37 L287.53 447.52 L287.66 447.62 L289.27 448.86 L289.52 449.05 L290.87 450.08 L291.53 450.58 L292.48 451.3 L293.56 452.11 L294.08 452.5 L295.62 453.64 L295.69 453.69 L297.29 454.87 L297.71 455.18 L298.9 456.04 L299.83 456.72 L300.51 457.2 L301.98 458.25 L302.11 458.35 L303.72 459.49 L304.15 459.79 L305.32 460.61 L306.36 461.33 L306.93 461.73 L308.53 462.83 L308.6 462.87 L310.14 463.92 L310.87 464.42 L311.74 465.01 L313.17 465.96 L313.35 466.08 L314.95 467.14 L315.5 467.5 L316.56 468.2 L317.87 469.05 L318.16 469.24 L319.77 470.27 L320.27 470.59 L321.37 471.3 L322.7 472.14 L322.98 472.31 L324.58 473.32 L325.17 473.68 L326.19 474.31 L327.68 475.23 L327.79 475.3 L329.4 476.27 L330.22 476.77 L331.01 477.24 L332.61 478.2 L332.81 478.31 L334.22 479.15 L335.43 479.86 L335.82 480.09 L337.43 481.02 L338.09 481.4 L339.03 481.94 L340.64 482.85 L340.79 482.94 L342.24 483.76 L343.53 484.48 L343.85 484.65 L345.45 485.54 L346.32 486.02 L347.06 486.42 L348.66 487.29 L349.15 487.55 L350.27 488.15 L351.87 489.01 L352.02 489.09 L353.48 489.86 L354.94 490.62 L355.08 490.69 L356.69 491.52 L357.91 492.15 L358.29 492.35 L359.9 493.16 L360.92 493.68 L361.51 493.97 L363.11 494.77 L363.98 495.2 L364.72 495.56 L366.32 496.34 L367.1 496.72 L367.93 497.12 L369.53 497.89 L370.26 498.24 L371.14 498.65 L372.74 499.41 L373.48 499.75 L374.35 500.15 L375.95 500.89 L376.75 501.26 L377.56 501.63 L379.16 502.35 L380.08 502.76 L380.77 503.07 L382.37 503.79 L383.46 504.27 L383.98 504.49 L385.58 505.19 L386.9 505.76 L387.19 505.88 L388.79 506.57 L390.4 507.25 L390.41 507.25 L392.01 507.92 L393.61 508.59 L393.97 508.74 L395.22 509.25 L396.82 509.9 L397.6 510.21 L398.43 510.55 L400.03 511.19 L401.29 511.69 L401.64 511.82 L403.24 512.45 L404.85 513.07 L405.05 513.15 L406.45 513.69 L408.06 514.3 L408.87 514.61 L409.66 514.91 L411.27 515.51 L412.77 516.06 L412.87 516.1 L414.48 516.69 L416.08 517.27 L416.74 517.5 L417.69 517.84 L419.29 518.41 L420.78 518.94 L420.9 518.98 L422.51 519.54 L424.11 520.09 L424.9 520.36 L425.72 520.64 L427.32 521.18 L428.93 521.72 L429.1 521.78 L430.53 522.26 L432.14 522.78 L433.38 523.19 L433.74 523.31 L435.35 523.82 L436.95 524.34 L437.74 524.59 L438.56 524.84 L440.16 525.35 L441.77 525.84 L442.19 525.97 L443.37 526.34 L444.98 526.82 L446.58 527.31 L446.72 527.35 L448.19 527.79 L449.79 528.26 L451.35 528.71 L451.4 528.73 L453.01 529.19 L454.61 529.65 L456.07 530.07 L456.22 530.11 L457.82 530.56 L459.43 531.01 L460.89 531.41 L461.03 531.45 L462.64 531.89 L464.24 532.32 L465.8 532.74 L465.85 532.75 L467.45 533.17 L469.06 533.59 L470.66 534.01 L470.82 534.05 L472.27 534.42 L473.87 534.83 L475.48 535.24 L475.95 535.35 L477.08 535.64 L478.69 536.03 L480.29 536.42 L481.18 536.64 L481.9 536.81 L483.51 537.2 L485.11 537.58 L486.53 537.91 L486.72 537.96 L488.32 538.33 L489.93 538.7 L491.53 539.06 L491.99 539.17 L493.14 539.43 L494.74 539.78 L496.35 540.14 L497.57 540.41 L497.95 540.49 L499.56 540.84 L501.16 541.18 L502.77 541.52 L503.28 541.63 L504.37 541.86 L505.98 542.2 L507.58 542.53 L509.11 542.84 L509.19 542.85 L510.79 543.18 L512.4 543.5 L514.01 543.82 L515.08 544.03 L515.61 544.13 L517.22 544.44 L518.82 544.75 L520.43 545.05 L521.18 545.2 L522.03 545.35 L523.64 545.65 L525.24 545.95 L526.85 546.24 L527.43 546.35 L528.45 546.53 L530.06 546.82 L531.66 547.1 L533.27 547.38 L533.82 547.48 L534.87 547.66 L536.48 547.93 L538.08 548.21 L539.69 548.48 L540.37 548.59 L541.29 548.74 L542.9 549.01 L544.51 549.27 L546.11 549.53 L547.07 549.68 L547.72 549.78 L549.32 550.03 L550.93 550.28 L552.53 550.53 L553.94 550.75 L554.14 550.78 L555.74 551.02 L557.35 551.26 L558.95 551.5 L560.56 551.73 L560.98 551.79 L562.16 551.96 L563.77 552.19 L565.37 552.42 L566.98 552.65 L568.19 552.82 L568.58 552.87 L570.19 553.09 L571.79 553.31 L573.4 553.52 L575.01 553.74 L575.59 553.81 L576.61 553.95 L578.22 554.16 L579.82 554.36 L581.43 554.57 L583.03 554.77 L583.18 554.79 L584.64 554.97 L586.24 555.17 L587.85 555.36 L589.45 555.56 L590.96 555.74 L591.06 555.75 L592.66 555.94 L594.27 556.12 L595.87 556.31 L597.48 556.49 L598.95 556.66 L599.08 556.67 L600.69 556.85 L602.29 557.03 L603.9 557.21 L605.51 557.38 L607.11 557.55 L607.15 557.55 L608.72 557.72 L610.32 557.89 L611.93 558.05 L613.53 558.22 L615.14 558.38 L615.57 558.42 L616.74 558.54 L618.35 558.7 L619.95 558.85 L621.56 559.01 L623.16 559.16 L624.23 559.26 L624.77 559.31 L626.37 559.46 L627.98 559.61 L629.58 559.76 L631.19 559.9 L632.79 560.04 L633.12 560.07 L634.4 560.18 L636.01 560.32 L637.61 560.46 L639.22 560.6 L640.82 560.73 L642.27 560.85 L642.43 560.86 L644.03 561 L645.64 561.13 L647.24 561.25 L648.85 561.38 L650.45 561.51 L651.68 561.6 L652.06 561.63 L653.66 561.75 L655.27 561.87 L656.87 561.99 L658.48 562.11 L660.08 562.23 L661.36 562.32 L661.69 562.34 L663.29 562.45 L664.9 562.57 L666.51 562.68 L668.11 562.79 L669.72 562.89 L671.32 563 L671.32 563 L672.93 563.11 L674.53 563.21 L676.14 563.31 L677.74 563.41 L679.35 563.51 L680.95 563.61 L681.59 563.65 L682.56 563.71 L684.16 563.81 L685.77 563.9 L687.37 563.99 L688.98 564.09 L690.58 564.18 L692.16 564.27 L692.19 564.27 L693.79 564.36 L695.4 564.44 L697.01 564.53 L698.61 564.62 L700.22 564.7 L701.82 564.78 L703.06 564.85 L703.43 564.87 L705.03 564.95 L706.64 565.03 L708.24 565.1 L709.85 565.18 L711.45 565.26 L713.06 565.33 L714.3 565.39 L714.66 565.41 L716.27 565.48 L717.87 565.55 L719.48 565.62 L721.08 565.69 L722.69 565.76 L724.29 565.83 L725.9 565.9" stroke="#ca00a4" stroke-width="8.2"/>
</g>
<!-- inset background -->
<rect x="376.8" y="66.4" width="326.4" height="326.2" fill="#fff"/>
<path d="M397.8 338.23H682.2M397.8 283.87H682.2M397.8 229.5H682.2M397.8 175.13H682.2M397.8 120.77H682.2M507.36 87.4V371.6M637.92 87.4V371.6" fill="none" stroke="#bdbdbd" stroke-width="1.6" stroke-dasharray="1.8 2"/>
<g fill="none" stroke="#000" stroke-width="2">
<rect x="376.8" y="66.4" width="326.4" height="326.2"/>
<path d="M376.8 392.6H395.8M703.2 392.6H684.2M376.8 338.23H395.8M703.2 338.23H684.2M376.8 283.87H395.8M703.2 283.87H684.2M376.8 229.5H395.8M703.2 229.5H684.2M376.8 175.13H395.8M703.2 175.13H684.2M376.8 120.77H395.8M703.2 120.77H684.2M376.8 66.4H395.8M703.2 66.4H684.2M507.36 392.6V373.6M507.36 66.4V85.4M637.92 392.6V373.6M637.92 66.4V85.4"/>
</g>
<g fill="none" stroke-linejoin="round">
<path d="M421.5 341.8 L421.97 341.51 L422.59 341.12 L423.34 340.65 L424.18 340.13 L425.08 339.57 L426 339 L426.99 338.4 L428.09 337.76 L429.24 337.07 L430.41 336.38 L431.55 335.68 L432.6 335 L433.58 334.34 L434.52 333.69 L435.43 333.04 L436.3 332.38 L437.16 331.7 L438 331 L438.8 330.27 L439.56 329.53 L440.3 328.76 L441.04 327.99 L441.8 327.2 L442.6 326.4 L443.45 325.59 L444.34 324.76 L445.26 323.92 L446.18 323.07 L447.1 322.23 L448 321.4 L448.9 320.59 L449.8 319.81 L450.69 319.03 L451.58 318.23 L452.45 317.4 L453.3 316.5 L454.12 315.51 L454.92 314.44 L455.7 313.34 L456.47 312.23 L457.24 311.17 L458 310.2 L458.76 309.34 L459.51 308.56 L460.26 307.82 L461.01 307.1 L461.75 306.33 L462.5 305.5 L463.24 304.59 L463.98 303.63 L464.72 302.63 L465.46 301.62 L466.22 300.6 L467 299.6 L467.77 298.64 L468.53 297.72 L469.31 296.8 L470.12 295.83 L471.01 294.78 L472 293.6 L473.08 292.27 L474.23 290.83 L475.45 289.29 L476.75 287.71 L478.13 286.1 L479.6 284.5 L481.23 282.87 L483.03 281.19 L484.91 279.48 L486.79 277.79 L488.58 276.15 L490.2 274.6 L491.65 273.14 L493.01 271.75 L494.28 270.41 L495.48 269.11 L496.61 267.85 L497.7 266.6 L498.67 265.42 L499.51 264.31 L500.29 263.24 L501.08 262.14 L501.96 260.98 L503 259.7 L504.23 258.26 L505.6 256.69 L507.05 255.06 L508.55 253.41 L510.05 251.8 L511.5 250.3 L512.86 248.97 L514.17 247.79 L515.47 246.66 L516.83 245.46 L518.32 244.11 L520 242.5 L521.92 240.56 L524.04 238.37 L526.28 236.01 L528.57 233.6 L530.84 231.23 L533 229 L535.02 226.94 L536.96 224.98 L538.88 223.06 L540.81 221.13 L542.84 219.13 L545 217 L547.36 214.69 L549.89 212.22 L552.5 209.69 L555.11 207.17 L557.64 204.74 L560 202.5 L562.17 200.47 L564.22 198.59 L566.19 196.81 L568.11 195.07 L570.03 193.32 L572 191.5 L574 189.61 L576 187.7 L578 185.78 L580 183.85 L582 181.92 L584 180 L585.98 178.09 L587.93 176.2 L589.88 174.31 L591.85 172.41 L593.88 170.47 L596 168.5 L598.22 166.47 L600.52 164.41 L602.88 162.31 L605.26 160.2 L607.64 158.09 L610 156 L612.34 153.91 L614.69 151.83 L617.03 149.74 L619.37 147.65 L621.7 145.57 L624 143.5 L626.31 141.43 L628.65 139.36 L630.98 137.3 L633.25 135.25 L635.44 133.21 L637.5 131.2 L639.39 129.19 L641.13 127.17 L642.79 125.17 L644.42 123.21 L646.1 121.32 L647.9 119.5 L649.82 117.79 L651.82 116.17 L653.86 114.61 L655.93 113.09 L657.98 111.56 L660 110 L661.91 108.47 L663.72 107.02 L665.52 105.56 L667.4 104.04 L669.47 102.37 L671.8 100.5 L674.51 98.33 L677.55 95.9 L680.76 93.33 L684.01 90.74 L687.14 88.26 L690 86 L692.74 83.86 L695.5 81.73 L698.14 79.69 L700.53 77.86 L702.53 76.33 L704 75.2" stroke="#ca00a4" stroke-width="8.3"/>
<path d="M694.6 74.4 L700.8 69.4" stroke="#ca00a4" stroke-width="2.2"/>
<path d="M422.5 343 L422.97 342.72 L423.59 342.35 L424.34 341.91 L425.19 341.4 L426.08 340.86 L427 340.3 L427.98 339.7 L429.06 339.03 L430.19 338.33 L431.33 337.61 L432.45 336.89 L433.5 336.2 L434.49 335.53 L435.44 334.88 L436.38 334.23 L437.28 333.57 L438.15 332.9 L439 332.2 L439.8 331.47 L440.54 330.73 L441.26 329.96 L441.98 329.19 L442.72 328.4 L443.5 327.6 L444.34 326.79 L445.21 325.97 L446.11 325.13 L447.01 324.29 L447.91 323.44 L448.8 322.6 L449.68 321.77 L450.56 320.94 L451.43 320.12 L452.3 319.28 L453.16 318.41 L454 317.5 L454.83 316.51 L455.66 315.46 L456.48 314.37 L457.27 313.3 L458.05 312.3 L458.8 311.4 L459.45 310.71 L459.99 310.2 L460.5 309.76 L461.08 309.26 L461.82 308.58 L462.8 307.6 L464.08 306.26 L465.59 304.65 L467.25 302.86 L468.99 300.99 L470.74 299.13 L472.4 297.4 L473.98 295.81 L475.52 294.3 L477.07 292.81 L478.64 291.29 L480.28 289.67 L482 287.9 L483.8 285.98 L485.66 283.96 L487.57 281.84 L489.55 279.64 L491.59 277.39 L493.7 275.1 L495.93 272.71 L498.3 270.19 L500.73 267.61 L503.15 265.04 L505.5 262.55 L507.7 260.2 L509.74 257.99 L511.66 255.87 L513.51 253.82 L515.32 251.84 L517.14 249.9 L519 248 L520.9 246.15 L522.8 244.37 L524.71 242.63 L526.62 240.92 L528.55 239.22 L530.5 237.5 L532.5 235.77 L534.55 234.03 L536.62 232.31 L538.66 230.59 L540.63 228.89 L542.5 227.2 L544.23 225.55 L545.84 223.93 L547.38 222.32 L548.91 220.71 L550.46 219.07 L552.1 217.4 L553.86 215.66 L555.71 213.85 L557.59 212.02 L559.44 210.21 L561.19 208.45 L562.8 206.8 L564.2 205.29 L565.43 203.89 L566.57 202.56 L567.69 201.22 L568.88 199.82 L570.2 198.3 L571.66 196.63 L573.2 194.85 L574.8 193.01 L576.44 191.16 L578.12 189.34 L579.8 187.6 L581.52 185.96 L583.29 184.39 L585.09 182.84 L586.89 181.3 L588.67 179.73 L590.4 178.1 L592.06 176.34 L593.67 174.47 L595.26 172.57 L596.85 170.72 L598.49 169 L600.2 167.5 L602 166.3 L603.88 165.36 L605.8 164.54 L607.73 163.74 L609.64 162.84 L611.5 161.7 L613.31 160.31 L615.08 158.75 L616.84 157.08 L618.59 155.36 L620.34 153.65 L622.1 152 L623.88 150.42 L625.66 148.86 L627.45 147.31 L629.24 145.74 L631.02 144.14 L632.8 142.5 L634.57 140.77 L636.34 138.97 L638.11 137.14 L639.87 135.33 L641.63 133.56 L643.4 131.9 L645.18 130.35 L646.99 128.88 L648.79 127.46 L650.57 126.08 L652.31 124.7 L654 123.3 L655.58 121.9 L657.07 120.52 L658.53 119.15 L659.99 117.77 L661.53 116.36 L663.2 114.9 L665.15 113.28 L667.38 111.49 L669.68 109.68 L671.84 107.97 L673.69 106.53 L675 105.5" stroke="#646464" stroke-width="8"/>
<path d="M420.5 340.5 L420.91 340.21 L421.44 339.82 L422.09 339.35 L422.83 338.83 L423.64 338.27 L424.5 337.7 L425.46 337.1 L426.55 336.46 L427.71 335.77 L428.89 335.08 L430.04 334.38 L431.1 333.7 L432.08 333.04 L433.02 332.39 L433.93 331.74 L434.8 331.08 L435.66 330.4 L436.5 329.7 L437.3 328.97 L438.06 328.23 L438.8 327.47 L439.54 326.69 L440.3 325.9 L441.1 325.1 L441.95 324.28 L442.84 323.43 L443.76 322.56 L444.68 321.7 L445.6 320.84 L446.5 320 L447.39 319.2 L448.29 318.44 L449.19 317.69 L450.07 316.92 L450.95 316.1 L451.8 315.2 L452.63 314.18 L453.45 313.06 L454.25 311.89 L455.04 310.72 L455.82 309.61 L456.6 308.6 L457.37 307.73 L458.13 306.97 L458.88 306.26 L459.62 305.56 L460.36 304.82 L461.1 304 L461.83 303.08 L462.56 302.1 L463.28 301.08 L464 300.04 L464.74 299.01 L465.5 298 L466.26 297.05 L467 296.16 L467.76 295.27 L468.56 294.33 L469.43 293.29 L470.4 292.1 L471.46 290.73 L472.59 289.2 L473.79 287.58 L475.07 285.91 L476.44 284.23 L477.9 282.6 L479.52 280.99 L481.32 279.35 L483.2 277.71 L485.08 276.09 L486.88 274.51 L488.5 273 L489.95 271.56 L491.31 270.17 L492.58 268.83 L493.78 267.53 L494.91 266.25 L496 265 L496.97 263.82 L497.81 262.72 L498.59 261.65 L499.38 260.56 L500.26 259.39 L501.3 258.1 L502.57 256.62 L504.01 254.98 L505.54 253.27 L507.07 251.56 L508.52 249.95 L509.8 248.5 L510.83 247.3 L511.66 246.28 L512.41 245.36 L513.19 244.42 L514.12 243.37 L515.3 242.1 L516.75 240.61 L518.37 238.99 L520.13 237.24 L522.01 235.41 L523.98 233.52 L526 231.6 L528.23 229.54 L530.72 227.3 L533.3 224.99 L535.79 222.75 L538.01 220.68 L539.8 218.9 L540.99 217.51 L541.7 216.42 L542.15 215.51 L542.55 214.64 L543.13 213.68 L544.1 212.5 L545.5 211.09 L547.16 209.54 L549 207.9 L550.93 206.22 L552.85 204.54 L554.7 202.9 L556.48 201.29 L558.26 199.66 L560.05 198.03 L561.84 196.42 L563.62 194.84 L565.4 193.3 L567.17 191.84 L568.94 190.46 L570.71 189.11 L572.47 187.75 L574.23 186.33 L576 184.8 L577.79 183.12 L579.61 181.31 L581.43 179.44 L583.22 177.58 L584.95 175.81 L586.6 174.2 L588.19 172.77 L589.75 171.46 L591.26 170.24 L592.67 169.06 L593.96 167.9 L595.1 166.7 L596.01 165.47 L596.71 164.23 L597.28 163.01 L597.83 161.8 L598.43 160.63 L599.2 159.5 L600.11 158.42 L601.09 157.39 L602.12 156.38 L603.23 155.4 L604.39 154.45 L605.6 153.5 L606.92 152.59 L608.36 151.72 L609.85 150.88 L611.34 150.02 L612.78 149.14 L614.1 148.2 L615.26 147.21 L616.31 146.19 L617.3 145.13 L618.29 144.05 L619.34 142.94 L620.5 141.8 L621.87 140.6 L623.41 139.33 L625.02 138.04 L626.56 136.76 L627.93 135.53 L629 134.4 L629.69 133.41 L630.09 132.53 L630.31 131.7 L630.47 130.87 L630.7 129.99 L631.1 129 L631.65 127.88 L632.26 126.68 L632.92 125.42 L633.66 124.14 L634.48 122.86 L635.4 121.6 L636.43 120.37 L637.55 119.14 L638.76 117.92 L640.05 116.69 L641.4 115.45 L642.8 114.2 L644.4 112.84 L646.22 111.37 L648.11 109.89 L649.9 108.51 L651.42 107.34 L652.5 106.5" stroke="#cc8800" stroke-width="8"/>
</g>
<!-- labels -->
<g transform="translate(31.47 35)"><text x="0" y="0" style="font-size:26px;">&#8199;0</text><path d="M763 0H583V1147Q518 1085 412.5 1023T223 930V1104Q374 1175 487 1276T647 1472H763V0Z" transform="translate(0 0) scale(0.01270 -0.01270)"/></g>
<g transform="translate(61.38 16.1)"><text x="0" y="0" style="font-size:18px;">5</text></g>
<g transform="translate(31.47 143.8)"><text x="0" y="0" style="font-size:26px;">&#8199;0</text><path d="M763 0H583V1147Q518 1085 412.5 1023T223 930V1104Q374 1175 487 1276T647 1472H763V0Z" transform="translate(0 0) scale(0.01270 -0.01270)"/></g>
<g transform="translate(61.69 124.9)"><text x="0" y="0" style="font-size:18px;">4</text></g>
<g transform="translate(31.47 252.6)"><text x="0" y="0" style="font-size:26px;">&#8199;0</text><path d="M763 0H583V1147Q518 1085 412.5 1023T223 930V1104Q374 1175 487 1276T647 1472H763V0Z" transform="translate(0 0) scale(0.01270 -0.01270)"/></g>
<g transform="translate(61.41 233.7)"><text x="0" y="0" style="font-size:18px;">3</text></g>
<g transform="translate(31.47 361.4)"><text x="0" y="0" style="font-size:26px;">&#8199;0</text><path d="M763 0H583V1147Q518 1085 412.5 1023T223 930V1104Q374 1175 487 1276T647 1472H763V0Z" transform="translate(0 0) scale(0.01270 -0.01270)"/></g>
<g transform="translate(61.19 342.5)"><text x="0" y="0" style="font-size:18px;">2</text></g>
<g transform="translate(31.47 470.2)"><text x="0" y="0" style="font-size:26px;">&#8199;0</text><path d="M763 0H583V1147Q518 1085 412.5 1023T223 930V1104Q374 1175 487 1276T647 1472H763V0Z" transform="translate(0 0) scale(0.01270 -0.01270)"/></g>
<g transform="translate(60.14 451.3)"><path d="M763 0H583V1147Q518 1085 412.5 1023T223 930V1104Q374 1175 487 1276T647 1472H763V0Z" transform="translate(0 0) scale(0.00879 -0.00879)"/></g>
<g transform="translate(31.47 579)"><text x="0" y="0" style="font-size:26px;">&#8199;0</text><path d="M763 0H583V1147Q518 1085 412.5 1023T223 930V1104Q374 1175 487 1276T647 1472H763V0Z" transform="translate(0 0) scale(0.01270 -0.01270)"/></g>
<g transform="translate(61.4 560.1)"><text x="0" y="0" style="font-size:18px;">0</text></g>
<g transform="translate(25.47 687.8)"><text x="0" y="0" style="font-size:26px;">&#8199;0</text><path d="M763 0H583V1147Q518 1085 412.5 1023T223 930V1104Q374 1175 487 1276T647 1472H763V0Z" transform="translate(0 0) scale(0.01270 -0.01270)"/></g>
<g transform="translate(54.8 668.9)"><text x="0" y="0" style="font-size:18px;">-&#8199;</text><path d="M763 0H583V1147Q518 1085 412.5 1023T223 930V1104Q374 1175 487 1276T647 1472H763V0Z" transform="translate(5.99 0) scale(0.00879 -0.00879)"/></g>
<g transform="translate(96.07 709.2)"><text x="0" y="0" style="font-size:26px;">50</text></g>
<g transform="translate(214.49 709.2)"><text x="0" y="0" style="font-size:26px;">&#8199;00</text><path d="M763 0H583V1147Q518 1085 412.5 1023T223 930V1104Q374 1175 487 1276T647 1472H763V0Z" transform="translate(0 0) scale(0.01270 -0.01270)"/></g>
<g transform="translate(340.15 709.2)"><text x="0" y="0" style="font-size:26px;">&#8199;50</text><path d="M763 0H583V1147Q518 1085 412.5 1023T223 930V1104Q374 1175 487 1276T647 1472H763V0Z" transform="translate(0 0) scale(0.01270 -0.01270)"/></g>
<g transform="translate(465.8 709.2)"><text x="0" y="0" style="font-size:26px;">200</text></g>
<g transform="translate(591.46 709.2)"><text x="0" y="0" style="font-size:26px;">250</text></g>
<g transform="translate(717.11 709.2)"><text x="0" y="0" style="font-size:26px;">300</text></g>
<g transform="translate(351.66 347.13)"><text x="0" y="0" style="font-size:26px;">0</text></g>
<g transform="translate(355.41 292.77)"><path d="M763 0H583V1147Q518 1085 412.5 1023T223 930V1104Q374 1175 487 1276T647 1472H763V0Z" transform="translate(0 0) scale(0.01270 -0.01270)"/></g>
<g transform="translate(351.95 238.4)"><text x="0" y="0" style="font-size:26px;">2</text></g>
<g transform="translate(351.78 184.03)"><text x="0" y="0" style="font-size:26px;">3</text></g>
<g transform="translate(351.4 129.67)"><text x="0" y="0" style="font-size:26px;">4</text></g>
<g transform="translate(351.73 75.3)"><text x="0" y="0" style="font-size:26px;">5</text></g>
<g transform="translate(342.14 401.5)"><text x="0" y="0" style="font-size:26px;">-&#8199;</text><path d="M763 0H583V1147Q518 1085 412.5 1023T223 930V1104Q374 1175 487 1276T647 1472H763V0Z" transform="translate(8.66 0) scale(0.01270 -0.01270)"/></g>
<g transform="translate(344.07 427.6)"><text x="0" y="0" style="font-size:26px;">0.000</text></g>
<g transform="translate(474.63 427.6)"><text x="0" y="0" style="font-size:26px;">0.0&#8199;0</text><path d="M763 0H583V1147Q518 1085 412.5 1023T223 930V1104Q374 1175 487 1276T647 1472H763V0Z" transform="translate(36.14 0) scale(0.01270 -0.01270)"/></g>
<g transform="translate(605.19 427.6)"><text x="0" y="0" style="font-size:26px;">0.020</text></g>
<g transform="translate(375.16 742.9)"><text x="0" y="0" style="font-size:26px;font-style:italic;">T</text></g>
<g transform="translate(400.55 742.9)"><text x="0" y="0" style="font-size:26px;">[</text></g>
<g transform="translate(415.67 742.9)"><text x="0" y="0" style="font-size:26px;">K</text></g>
<g transform="translate(442 742.9)"><text x="0" y="0" style="font-size:26px;">]</text></g>
<text transform="translate(22.3 444.17) rotate(-90)" style="font-size:26px;font-style:italic;">&#961;</text>
<text transform="translate(22.3 419.41) rotate(-90)" style="font-size:26px;">(</text>
<text transform="translate(22.3 407.64) rotate(-90)" style="font-size:26px;font-style:italic;">T</text>
<text transform="translate(22.3 393.05) rotate(-90)" style="font-size:26px;">)</text>
<text transform="translate(22.3 375.3) rotate(-90)" style="font-size:26px;">/</text>
<text transform="translate(22.3 359.37) rotate(-90)" style="font-size:26px;font-style:italic;">&#961;</text>
<text transform="translate(22.3 337.91) rotate(-90)" style="font-size:26px;">(</text>
<text transform="translate(22.3 326.59) rotate(-90)" style="font-size:26px;">300</text>
<text transform="translate(22.3 275.23) rotate(-90)" style="font-size:26px;">K</text>
<text transform="translate(22.3 257.25) rotate(-90)" style="font-size:26px;">)</text>
<g transform="translate(480.86 462.1)"><text x="0" y="0" style="font-size:26px;font-style:italic;">&#8199;/T</text><path d="M763 0H583V1147Q518 1085 412.5 1023T223 930V1104Q374 1175 487 1276T647 1472H763V0Z" transform="translate(0 0) skewX(-12) scale(0.01270 -0.01270)"/></g>
<g transform="translate(532.15 462.1)"><text x="0" y="0" style="font-size:26px;">[</text></g>
<g transform="translate(546.67 462.1)"><text x="0" y="0" style="font-size:26px;">K</text></g>
<g transform="translate(565.2 443.8)"><text x="0" y="0" style="font-size:18px;">-&#8199;</text><path d="M763 0H583V1147Q518 1085 412.5 1023T223 930V1104Q374 1175 487 1276T647 1472H763V0Z" transform="translate(5.99 0) scale(0.00879 -0.00879)"/></g>
<g transform="translate(591 462.1)"><text x="0" y="0" style="font-size:26px;">]</text></g>
<text transform="translate(324.2 365.93) rotate(-90)" style="font-size:26px;">Log{</text>
<text transform="translate(324.2 303.67) rotate(-90)" style="font-size:26px;font-style:italic;">&#961;</text>
<text transform="translate(324.2 282.51) rotate(-90)" style="font-size:26px;">(</text>
<text transform="translate(324.2 269.24) rotate(-90)" style="font-size:26px;font-style:italic;">T</text>
<text transform="translate(324.2 253.25) rotate(-90)" style="font-size:26px;">)</text>
<text transform="translate(324.2 236.2) rotate(-90)" style="font-size:26px;">/</text>
<text transform="translate(324.2 220.17) rotate(-90)" style="font-size:26px;font-style:italic;">&#961;</text>
<text transform="translate(324.2 196.61) rotate(-90)" style="font-size:26px;">(</text>
<text transform="translate(324.2 188.49) rotate(-90)" style="font-size:26px;">300</text>
<text transform="translate(324.2 136.53) rotate(-90)" style="font-size:26px;">K</text>
<text transform="translate(324.2 116.55) rotate(-90)" style="font-size:26px;">)</text>
<text transform="translate(324.2 101.93) rotate(-90)" style="font-size:26px;">}</text>
<g transform="translate(771.98 220.7) scale(1.03 1)"><text x="0" y="0" style="font-size:26px;">#2</text></g>
<g transform="translate(840.3 251.1) scale(1.03 1)"><text x="0" y="0" style="font-size:26px;">-&#8199;.5 K/h</text><path d="M763 0H583V1147Q518 1085 412.5 1023T223 930V1104Q374 1175 487 1276T647 1472H763V0Z" transform="translate(8.66 0) scale(0.01270 -0.01270)"/></g>
<g transform="translate(771.98 282.9) scale(1.03 1)"><text x="0" y="0" style="font-size:26px;">#3</text></g>
<g transform="translate(839.9 313.8) scale(1.03 1)"><text x="0" y="0" style="font-size:26px;">-&#8199;3 K/h</text><path d="M763 0H583V1147Q518 1085 412.5 1023T223 930V1104Q374 1175 487 1276T647 1472H763V0Z" transform="translate(8.66 0) scale(0.01270 -0.01270)"/></g>
<g transform="translate(771.98 345.1) scale(1.03 1)"><text x="0" y="0" style="font-size:26px;">#4</text></g>
<g transform="translate(839.9 376.3) scale(1.03 1)"><text x="0" y="0" style="font-size:26px;">-85 K/h</text></g>
<g transform="translate(839.99 438.7) scale(1.03 1)"><text x="0" y="0" style="font-size:26px;">Ref. 22</text></g>
<!-- legend -->
<rect x="767" y="191" width="171.8" height="258.8" fill="none" stroke="#000" stroke-width="1.8"/>
<path d="M776.2 243.2H828" stroke="#ca00a4" stroke-width="7.6"/>
<path d="M776.2 305.6H828" stroke="#646464" stroke-width="7.4"/>
<path d="M776.2 368.2H828" stroke="#cc8800" stroke-width="6"/>
<path d="M776 430.2H829" stroke="#000" stroke-width="8" stroke-dasharray="8.2 7.4"/>
</svg>
</body></html>
